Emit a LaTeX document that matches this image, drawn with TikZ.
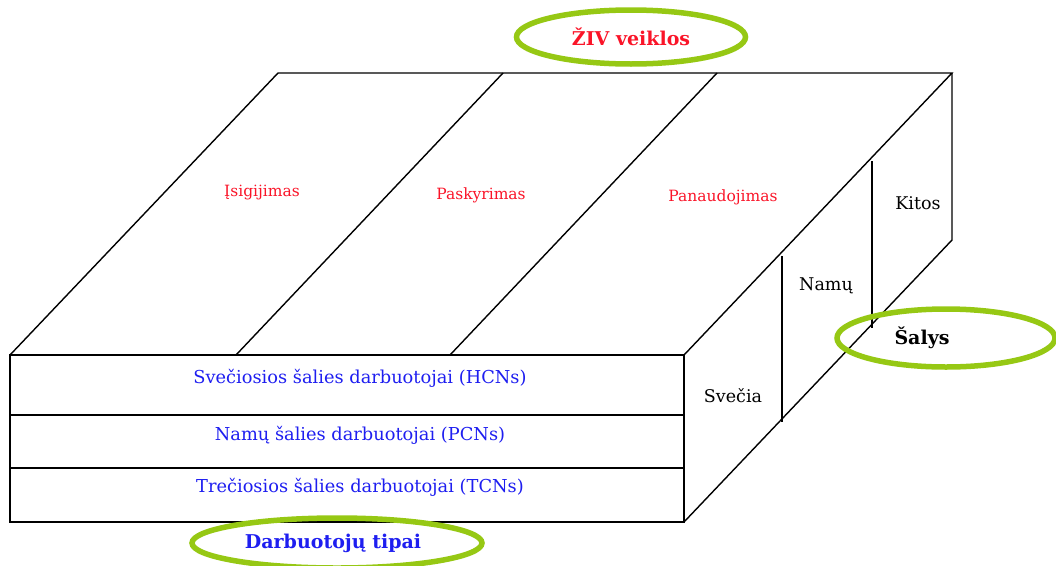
\documentclass[tikz,border=0pt]{standalone}
\usepackage{fontspec}
\setmainfont{DejaVu Serif}
\usetikzlibrary{shapes.geometric}
\definecolor{lapas}{RGB}{150,200,20}
\definecolor{raudona}{RGB}{250,20,40}
\definecolor{melyna}{RGB}{30,30,240}

\begin{document}
\begin{tikzpicture}[x=1pt,y=-1pt,line width=1.4pt,
   veikla/.style={text=raudona,font=\fontsize{15.5}{15.5}\selectfont},
   tipas/.style={text=melyna,font=\fontsize{17.8}{17.8}\selectfont},
   salis/.style={font=\fontsize{17.5}{17.5}\selectfont},
   ovalas/.style={ellipse,draw=lapas,line width=5.5pt,inner sep=0pt,font=\bfseries\fontsize{19}{19}\selectfont}]
  \clip (0,0) rectangle (1056,565);

  % kubo kampai
  \coordinate (a) at (10,355);
  \coordinate (b) at (684,355);
  \coordinate (c) at (684,522);
  \coordinate (d) at (10,522);
  \coordinate (e) at (278,73);
  \coordinate (f) at (952,73);
  \coordinate (g) at (952,240);

  \draw (d) -- (a) -- (b) -- (c) -- cycle;
  \draw (a) -- (e) -- (f) -- (b);
  \draw (f) -- (g) -- (c);

  % padalinimai
  \foreach \x/\y/\u/\v in {10/415/684/415, 10/468/684/468, 503/73/236/355, 717/73/450/355,
                           782/256/782/422, 872/161/872/328}
    \draw (\x,\y) -- (\u,\v);

  \node[veikla] (isig) at (262,193) {Įsigijimas};
  \node[veikla] (pask) at (481,195) {Paskyrimas};
  \node[veikla] (pan) at (723,197) {Panaudojimas};

  \node[tipas] (hcn) at (360,378) {Svečiosios šalies darbuotojai (HCNs)};
  \node[tipas] (pcn) at (360,435) {Namų šalies darbuotojai (PCNs)};
  \node[tipas] (tcn) at (360,487) {Trečiosios šalies darbuotojai (TCNs)};

  \node[salis] (svec) at (733,396) {Svečia};
  \node[salis] (namu) at (826,286) {Namų};
  \node[salis] (kit) at (918,203) {Kitos};

  \node[ovalas,minimum width=229,minimum height=54,text=raudona] (ziv) at (631,37) {ŽIV veiklos};
  \node[ovalas,minimum width=218,minimum height=58] (sal) at (946,338) {\hspace*{-48pt}Šalys};
  \node[ovalas,minimum width=290,minimum height=50,text=melyna] (darb) at (337,543) {\hspace*{-8pt}Darbuotojų tipai};
\end{tikzpicture}
\end{document}
